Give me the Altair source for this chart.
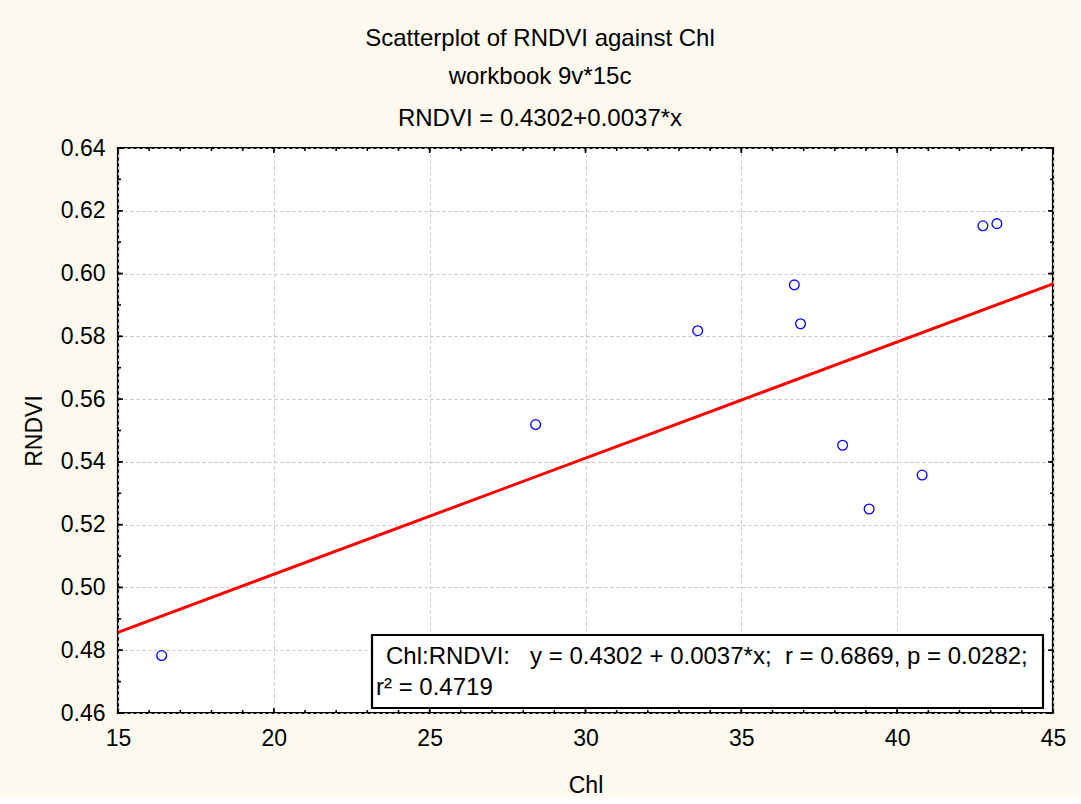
import altair as alt
import pandas as pd

# Observations: chlorophyll content vs. red-edge NDVI
chl = [16.4, 28.4, 33.6, 36.7, 36.9, 38.25, 39.1, 40.8, 42.75, 43.2]
rndvi = [0.4783, 0.5519, 0.5818, 0.5964, 0.5840, 0.5453, 0.5250, 0.5358, 0.6152, 0.6159]

# Fitted line stated in the chart
intercept = 0.4302
slope = 0.0037
line_x = [15, 45]

# Axis ticks
x_major = [15, 20, 25, 30, 35, 40, 45]
x_minor = list(range(15, 46))
y_major = [0.46, 0.48, 0.50, 0.52, 0.54, 0.56, 0.58, 0.60, 0.62, 0.64]
y_minor = [0.46, 0.47, 0.48, 0.49, 0.50, 0.51, 0.52, 0.53, 0.54, 0.55,
           0.56, 0.57, 0.58, 0.59, 0.60, 0.61, 0.62, 0.63, 0.64]

title_lines = ["Scatterplot of RNDVI against Chl", "workbook 9v*15c",
               "RNDVI = 0.4302+0.0037*x"]
stats_line1 = "Chl:RNDVI:\u00a0\u00a0\u00a0y = 0.4302 + 0.0037*x;\u00a0\u00a0r = 0.6869, p = 0.0282;"
stats_line2 = "r\u00b2 = 0.4719"

W, H = 935, 565
FONT = "Liberation Sans"

xs = alt.Scale(domain=[15, 45], nice=False, zero=False)
ys = alt.Scale(domain=[0.46, 0.64], nice=False, zero=False)
x_axis = alt.Axis(values=x_major, format="d", title="Chl", titlePadding=24,
                  labelPadding=14, labelFlush=False)
y_axis = alt.Axis(values=y_major, format=".2f", title="RNDVI", titlePadding=14,
                  labelPadding=13, labelFlush=False)


def X(field):
    return alt.X(field, scale=xs, axis=x_axis, title="Chl")


def Y(field):
    return alt.Y(field, scale=ys, axis=y_axis, title="RNDVI")


pts = pd.DataFrame({"Chl": chl, "RNDVI": rndvi})

points = alt.Chart(pts).mark_point(
    shape="circle", filled=False, color="#0000FF", opacity=1,
    size=95, strokeWidth=1.3
).encode(x=X("Chl:Q"), y=Y("RNDVI:Q"))

fit = alt.Chart(pd.DataFrame({"x": line_x})).transform_calculate(
    y=f"{intercept} + {slope} * datum.x"
).mark_line(color="#FF0000", strokeWidth=3).encode(x=X("x:Q"), y=Y("y:Q"))


def x_ticks(values, length):
    d = alt.Chart(pd.DataFrame({"t": values})).mark_rule(color="black", strokeWidth=1.6)
    bottom = d.encode(x=X("t:Q"), y=alt.value(H), y2=alt.value(H - length))
    top = d.encode(x=X("t:Q"), y=alt.value(0), y2=alt.value(length))
    return [bottom, top]


def y_ticks(values, length):
    d = alt.Chart(pd.DataFrame({"t": values})).mark_rule(color="black", strokeWidth=1.6)
    left = d.encode(y=Y("t:Q"), x=alt.value(0), x2=alt.value(length))
    right = d.encode(y=Y("t:Q"), x=alt.value(W), x2=alt.value(W - length))
    return [left, right]


ticks = x_ticks(x_minor, 3) + x_ticks(x_major, 5) + y_ticks(y_minor, 3) + y_ticks(y_major, 5)

# Chart titles (three centred lines above the plot)
title_ys = [-109, -71, -29]
titles = [
    alt.Chart(pd.DataFrame({"t": [txt]})).mark_text(
        font=FONT, fontSize=24, color="black", align="center", baseline="middle"
    ).encode(text="t:N", x=alt.value(422), y=alt.value(yy))
    for txt, yy in zip(title_lines, title_ys)
]

# Statistics box
box = alt.Chart(pd.DataFrame({"a": [0]})).mark_rect(
    fill="white", stroke="black", strokeWidth=2.2
).encode(x=alt.value(254), x2=alt.value(925), y=alt.value(487), y2=alt.value(560))

stats1 = alt.Chart(pd.DataFrame({"t": [stats_line1]})).mark_text(
    font=FONT, fontSize=24, color="black", align="left", baseline="middle"
).encode(text="t:N", x=alt.value(268), y=alt.value(509))
stats2 = alt.Chart(pd.DataFrame({"t": [stats_line2]})).mark_text(
    font=FONT, fontSize=24, color="black", align="left", baseline="middle"
).encode(text="t:N", x=alt.value(258), y=alt.value(540))

chart = alt.layer(
    points, fit, *ticks, box, stats1, stats2, *titles
).properties(
    width=W, height=H,
    autosize=alt.AutoSizeParams(type="none"),
    padding={"left": 118, "top": 148, "right": 27, "bottom": 84},
    background="#FDF9EF",
).configure_view(
    fill="white", stroke="black", strokeWidth=2.2
).configure_axis(
    domain=False, ticks=False, tickSize=0,
    grid=True, gridColor="#C4C4C4", gridDash=[3, 3], gridWidth=1,
    labelFont=FONT, labelFontSize=23, labelColor="black",
    titleFont=FONT, titleFontSize=23, titleFontWeight="normal", titleColor="black",
)

chart.save("out.html", embed_options={"renderer": "svg", "actions": False})
